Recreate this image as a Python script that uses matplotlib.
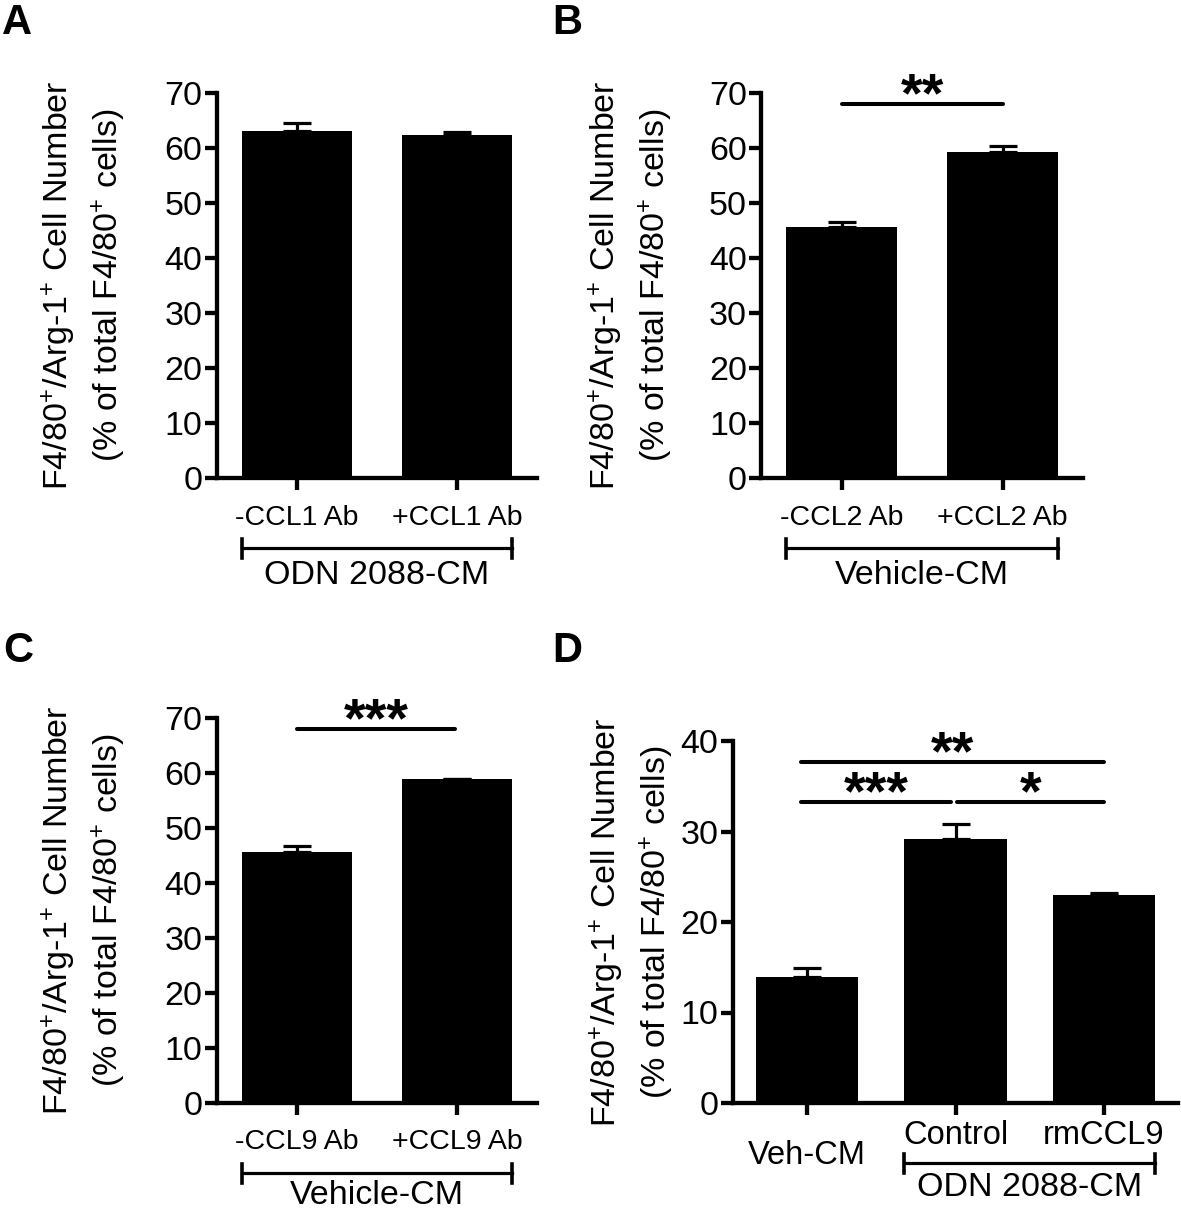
import matplotlib.pyplot as plt
import numpy as np

plt.rcParams['font.family'] = ['Liberation Sans', 'DejaVu Sans']
plt.rcParams['mathtext.fontset'] = 'custom'
plt.rcParams['mathtext.rm'] = 'Liberation Sans'
plt.rcParams['mathtext.it'] = 'Liberation Sans:italic'
plt.rcParams['mathtext.bf'] = 'Liberation Sans:bold'

# panel A
a_labels = ['-CCL1 Ab', '+CCL1 Ab']
a_means = [63.1, 62.4]
a_sem = [1.4, 0.5]

# panel B
b_labels = ['-CCL2 Ab', '+CCL2 Ab']
b_means = [45.6, 59.2]
b_sem = [0.9, 1.2]
b_sig_pairs = [(0, 1)]
b_sig_heights = [68.0]
b_sig_text = ['**']

# panel C
c_labels = ['-CCL9 Ab', '+CCL9 Ab']
c_means = [45.7, 58.9]
c_sem = [1.0, 0.0]
c_sig_pairs = [(0, 1)]
c_sig_heights = [68.0]
c_sig_text = ['***']

# panel D
d_labels = ['Veh-CM', 'Control', 'rmCCL9']
d_means = [13.9, 29.2, 23.0]
d_sem = [1.0, 1.6, 0.2]
d_sig_pairs = [(0, 2), (0, 1), (1, 2)]
d_sig_heights = [37.7, 33.3, 33.3]
d_sig_text = ['**', '***', '*']

ylab = 'F4/80$^{+}$/Arg-1$^{+}$ Cell Number\n(% of total F4/80$^{+}$ cells)'

W, H = 1181, 1211
fig = plt.figure(figsize=(W / 100, H / 100), dpi=100)

BAR_W = 0.69
LW = 3.1


def add_axes(left, top, right, bottom):
    return fig.add_axes([left / W, 1 - bottom / H, (right - left) / W, (bottom - top) / H])


def draw_bars(ax, means, sems, ymax, ystep):
    x = np.arange(len(means))
    ax.bar(x, means, width=BAR_W, color='k', zorder=2)
    ax.errorbar(x, means, yerr=[np.zeros(len(sems)), sems], fmt='none', ecolor='k',
                elinewidth=2.3, capsize=10, capthick=2.3, zorder=1)
    ax.set_xlim(-0.5, len(means) - 0.5)
    ax.set_ylim(0, ymax)
    ax.set_yticks(np.arange(0, ymax + 1, ystep))
    ax.set_xticks(x)
    ax.set_xticklabels([])
    ax.spines[['top', 'right']].set_visible(False)
    ax.spines[['left', 'bottom']].set_linewidth(LW)
    ax.tick_params(width=LW, length=8.6, labelsize=24.5, pad=2)
    return x


def px_frac(ax, px):
    # pixels below the x axis -> axes fraction
    h = ax.get_position().height * H
    return -px / h


def group_bracket(ax, i0, i1, text, y_px, label_px):
    trans = ax.get_xaxis_transform()
    yb = px_frac(ax, y_px)
    c = 9.5 / (ax.get_position().height * H)
    x0, x1 = i0 - BAR_W / 2, i1 + BAR_W / 2
    ax.plot([x0, x1], [yb, yb], color='k', lw=2.3, transform=trans, clip_on=False)
    ax.plot([x0, x0], [yb - c, yb + c], color='k', lw=2.6, transform=trans, clip_on=False)
    ax.plot([x1, x1], [yb - c, yb + c], color='k', lw=2.6, transform=trans, clip_on=False)
    ax.text((x0 + x1) / 2, px_frac(ax, label_px), text, transform=trans,
            ha='center', va='center', fontsize=24.5)


def sig_lines(ax, pairs, heights, texts, nudge):
    for (i0, i1), h, t, (n0, n1) in zip(pairs, heights, texts, nudge):
        x0, x1 = i0 + n0, i1 + n1
        ax.plot([x0, x1], [h, h], color='k', lw=2.9, solid_capstyle='round', clip_on=False)
        ax.annotate(t, xy=((x0 + x1) / 2, h), xytext=(0, -5.5), textcoords='offset points',
                    ha='center', va='baseline', fontsize=40, fontweight='bold')


def x_labels(ax, x, labels, offsets_px, size=20.5):
    trans = ax.get_xaxis_transform()
    for xi, lab, off in zip(x, labels, offsets_px):
        ax.text(xi, px_frac(ax, off), lab, transform=trans, ha='center', va='center', fontsize=size)


def y_label(ax, xfrac):
    ax.set_ylabel(ylab, fontsize=24.5, va='center', linespacing=1.4)
    ax.yaxis.set_label_coords(xfrac, 0.5)


# A
ax = add_axes(217, 93, 537, 478)
x = draw_bars(ax, a_means, a_sem, 70, 10)
x_labels(ax, x, a_labels, [40, 40])
group_bracket(ax, 0, 1, 'ODN 2088-CM', 70, 97)
y_label(ax, -133 / 320)

# B
ax = add_axes(761.5, 93, 1083, 478)
x = draw_bars(ax, b_means, b_sem, 70, 10)
x_labels(ax, x, b_labels, [40, 40])
group_bracket(ax, 0, 1, 'Vehicle-CM', 70, 97)
sig_lines(ax, b_sig_pairs, b_sig_heights, b_sig_text, [(0, 0)])
y_label(ax, -131 / 321.5)

# C
ax = add_axes(217, 718, 537, 1103)
x = draw_bars(ax, c_means, c_sem, 70, 10)
x_labels(ax, x, c_labels, [39, 39])
group_bracket(ax, 0, 1, 'Vehicle-CM', 70, 92)
sig_lines(ax, c_sig_pairs, c_sig_heights, c_sig_text, [(0, -0.01)])
y_label(ax, -133 / 320)

# D
ax = add_axes(733, 741, 1178, 1103)
x = draw_bars(ax, d_means, d_sem, 40, 10)
x_labels(ax, x, d_labels, [53, 33, 33], size=23.5)
group_bracket(ax, 1, 2, 'ODN 2088-CM', 60, 85)
sig_lines(ax, d_sig_pairs, d_sig_heights, d_sig_text, [(-0.04, 0), (-0.04, -0.03), (0.01, 0)])
y_label(ax, -101 / 445)

# panel letters
for lx, ly, letter in [(2, 3, 'A'), (552, 3, 'B'), (3, 631, 'C'), (552, 631, 'D')]:
    fig.text(lx / W, 1 - ly / H, letter, fontsize=30, fontweight='bold', ha='left', va='top')

fig.savefig('out.png', dpi=100)
